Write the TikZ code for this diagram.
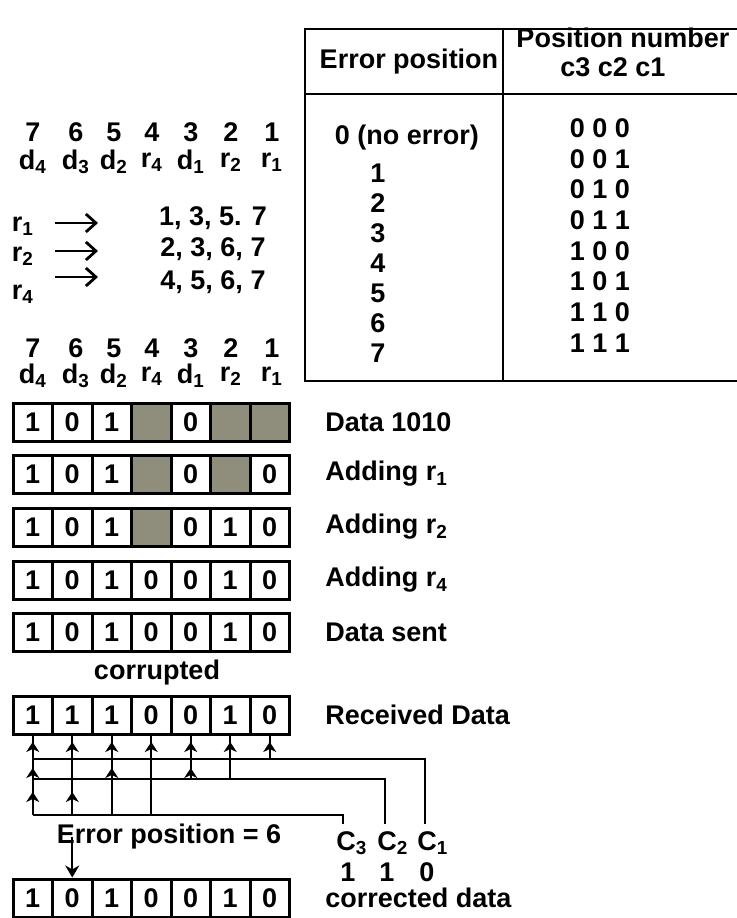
\documentclass[tikz,border=0pt]{standalone}
\usepackage{fontspec}
\setmainfont{Liberation Sans}
\usetikzlibrary{arrows.meta,positioning}
\definecolor{shadegray}{HTML}{8F8D7B}

\begin{document}
\begin{tikzpicture}[x=0.5pt,y=-0.5pt,>=Stealth,
  font=\fontsize{13.5}{15}\selectfont\bfseries,
  bit/.style={draw,line width=1.5pt,minimum width=19.75pt,minimum height=19pt,inner sep=0pt},
  shade/.style={bit,fill=shadegray},
  rowlabel/.style={right=17pt of #1,inner sep=0pt},
  wire/.style={line width=1.2pt},
  rule/.style={line width=1.4pt}]
  \useasboundingbox[fill=white] (0,0) rectangle (736,918);

  % table of error positions
  \draw[rule] (745,29) -- (305,29) -- (305,381) -- (745,381);
  \draw[rule] (305,94) -- (745,94);
  \draw[rule] (503,29) -- (503,381);
  \node (hd-err) at (409,62) {Error position};
  \node (hd-pos) at (623,38) {Position number};
  \node (hd-bits) at (613,67) {c3 c2 c1};
  \node (err-0) at (407,138) {0 (no error)};
  \foreach \n in {1,...,7}
    \node (err-\n) at (378,{143+30*\n}) {\n};
  \foreach \c [count=\n from 0] in {0 0 0,0 0 1,0 1 0,0 1 1,1 0 0,1 0 1,1 1 0,1 1 1}
    \node (pos-\n) at (600,{128+30.7*\n}) {\c};

  % bit positions
  \foreach \p/\x/\nm in {7/33/d\textsubscript{4},6/76/d\textsubscript{3},5/114/d\textsubscript{2},4/152/r\textsubscript{4},3/191/d\textsubscript{1},2/231/r\textsubscript{2},1/272/r\textsubscript{1}}{
    \node (top-\p) at (\x,132) {\p};
    \node (topn-\p) at (\x,162) {\nm};
    \node (bot-\p) at (\x,348) {\p};
    \node (botn-\p) at (\x,376) {\nm};
  }

  % redundant bits and the positions they cover
  \foreach \k/\ay/\ly/\sy/\set in {1/223/226/218/{1, 3, 5. 7},2/251/256/249/{2, 3, 6, 7},4/277/294/282/{4, 5, 6, 7}}{
    \node (chk-\k) at (23,\ly) {r\textsubscript{\k}};
    \coordinate (from-\k) at (55,\ay);
    \coordinate (to-\k) at (98,\ay);
    \draw[line width=1.4pt,-{Straight Barb[length=5pt,width=9pt,line width=1.4pt]}] (from-\k) -- (to-\k);
    \node (set-\k) at (213,\sy) {\set};
  }

  % rows of cells
  \foreach \row/\ty/\bits/\txt in {
      data/403/{1/bit,0/bit,1/bit,/shade,0/bit,/shade,/shade}/{Data 1010},
      addone/455/{1/bit,0/bit,1/bit,/shade,0/bit,/shade,0/bit}/{Adding r\textsubscript{1}},
      addtwo/508/{1/bit,0/bit,1/bit,/shade,0/bit,1/bit,0/bit}/{Adding r\textsubscript{2}},
      addfour/561/{1/bit,0/bit,1/bit,0/bit,0/bit,1/bit,0/bit}/{Adding r\textsubscript{4}},
      sent/613/{1/bit,0/bit,1/bit,0/bit,0/bit,1/bit,0/bit}/{Data sent},
      recv/696/{1/bit,1/bit,1/bit,0/bit,0/bit,1/bit,0/bit}/{Received Data},
      fixd/879/{1/bit,0/bit,1/bit,0/bit,0/bit,1/bit,0/bit}/{corrected data}}{
    \foreach \b/\st [count=\i, evaluate=\i as \p using int(8-\i)] in \bits
      \node[\st] (\row-\p) at ({13+39.5*(\i-0.5)},\ty+19) {\b};
    \node[rowlabel=\row-1] (\row-lbl) {\txt};
  }
  \node (corrupt) at (157,673) {corrupted};

  % check lines
  \node (c-3) at (352,843) {C\textsubscript{3}};
  \node (c-2) at (393,843) {C\textsubscript{2}};
  \node (c-1) at (433,843) {C\textsubscript{1}};
  \node (v-3) at (348,872) {1};
  \node (v-2) at (387,872) {1};
  \node (v-1) at (427,872) {0};
  \coordinate (k1) at (425,759);
  \coordinate (k2) at (385,779);
  \coordinate (k3) at (343,815);
  \foreach \p/\w in {7/3,6/3,5/3,4/3,3/2,2/2,1/1}
    \draw[wire] (recv-\p.south) -- (recv-\p.south |- k\w);
  \foreach \w in {1,2,3}
    \draw[wire] (recv-7.south |- k\w) -- (k\w) -- (k\w |- c-\w.north);
  \foreach \p/\t in {7/742,6/742,5/742,4/742,3/742,2/742,1/742,7/768,5/768,3/768,7/792,6/792}
    \draw[wire,-{Stealth[length=5pt,width=6.5pt,inset=1.5pt]}] ({32.75+39.5*(7-\p)},\t+10) -- ++(0,-10);

  \node (errpos) at (169,837) {Error position = 6};
  \draw[wire,-{Stealth[length=6pt,width=7pt]}] (fixd-6.north |- errpos.center) -- (fixd-6.north);
\end{tikzpicture}
\end{document}
